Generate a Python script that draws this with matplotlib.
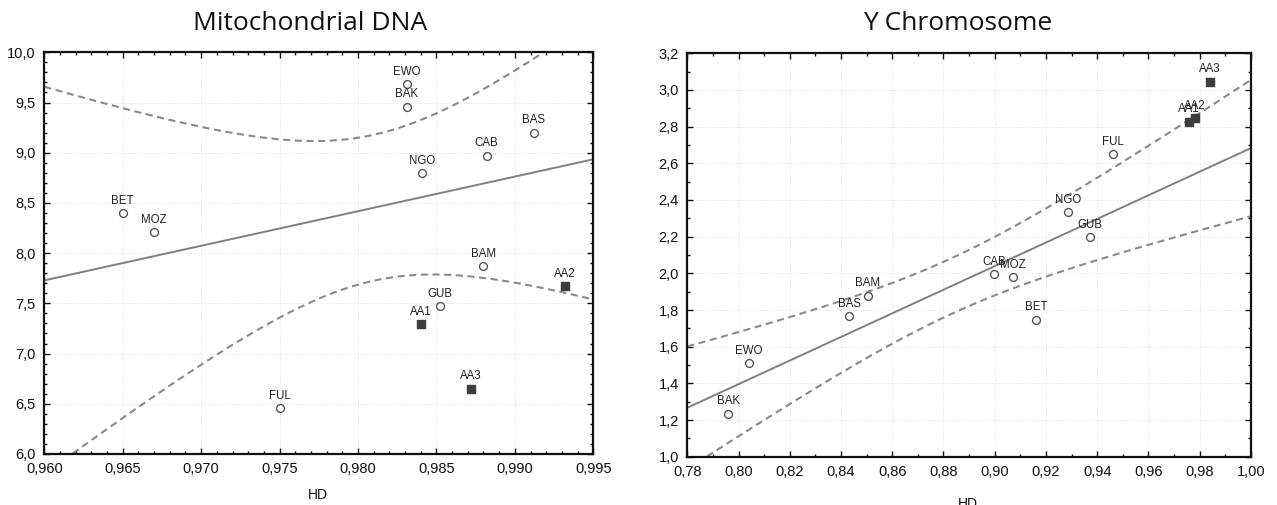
import numpy as np
import matplotlib
matplotlib.use("Agg")
import matplotlib.pyplot as plt
from matplotlib.ticker import MultipleLocator, FuncFormatter

# mitochondrial DNA: populations (open circles) and AA samples (filled squares)
mt_pops = ["BET", "MOZ", "EWO", "BAK", "BAS", "CAB", "NGO", "BAM", "GUB", "FUL"]
mt_hd = [0.965, 0.967, 0.9831, 0.9831, 0.9912, 0.9882, 0.9841, 0.9880, 0.9852, 0.975]
mt_val = [8.40, 8.21, 9.68, 9.46, 9.20, 8.97, 8.80, 7.87, 7.47, 6.46]
mt_aa = ["AA1", "AA2", "AA3"]
mt_aa_hd = [0.984, 0.9932, 0.9872]
mt_aa_val = [7.29, 7.67, 6.65]

# Y chromosome
y_pops = ["BAK", "EWO", "BAS", "BAM", "CAB", "MOZ", "BET", "NGO", "GUB", "FUL"]
y_hd = [0.796, 0.8041, 0.8432, 0.8505, 0.8999, 0.9072, 0.9161, 0.9287, 0.937, 0.9463]
y_val = [1.235, 1.512, 1.765, 1.878, 1.995, 1.98, 1.747, 2.332, 2.197, 2.652]
y_aa = ["AA1", "AA2", "AA3"]
y_aa_hd = [0.9758, 0.978, 0.9839]
y_aa_val = [2.827, 2.847, 3.046]

T975_DF8 = 2.306004  # t quantile for 95% band, n=10


def fmt(nd):
    return FuncFormatter(lambda v, p: f"{v:.{nd}f}".replace(".", ","))


def panel(ax, hd, val, pops, aa_hd, aa_val, aa, xlim, ylim, xmaj, xmin, ymaj, ymin, xd, yd):
    x = np.array(hd)
    y = np.array(val)
    n = len(x)
    b, a = np.polyfit(x, y, 1)
    resid = y - (a + b * x)
    s = np.sqrt(np.sum(resid ** 2) / (n - 2))
    sxx = np.sum((x - x.mean()) ** 2)
    xs = np.linspace(xlim[0], xlim[1], 300)
    yh = a + b * xs
    se = s * np.sqrt(1 / n + (xs - x.mean()) ** 2 / sxx)
    ax.plot(xs, yh, color="#808080", lw=1.4, zorder=2)
    for sign in (1, -1):
        ax.plot(xs, yh + sign * T975_DF8 * se, color="#8a8a8a", lw=1.5,
                dashes=(3.4, 2.2), zorder=2)

    ax.scatter(x, y, s=32, facecolor="white", edgecolor="#555555", lw=1.0, zorder=3)
    ax.scatter(aa_hd, aa_val, s=26, marker="s", color="#3d3d3d", zorder=3)
    for xi, yi, t in zip(list(x) + aa_hd, list(y) + aa_val, pops + aa):
        ax.annotate(t, (xi, yi), xytext=(0, 4.5), textcoords="offset points",
                    ha="center", va="bottom", fontsize=8.3, family="Liberation Sans",
                    color="#222222", zorder=4)

    ax.set_xlim(*xlim)
    ax.set_ylim(*ylim)
    ax.xaxis.set_major_locator(MultipleLocator(xmaj))
    ax.xaxis.set_minor_locator(MultipleLocator(xmin))
    ax.yaxis.set_major_locator(MultipleLocator(ymaj))
    ax.yaxis.set_minor_locator(MultipleLocator(ymin))
    ax.xaxis.set_major_formatter(fmt(xd))
    ax.yaxis.set_major_formatter(fmt(yd))
    ax.tick_params(which="both", direction="in", top=True, right=True, width=1.0,
                   colors="#111111", labelsize=10.5)
    ax.tick_params(which="major", length=4, pad=6)
    ax.tick_params(which="minor", length=2.5)
    for lbl in ax.get_xticklabels() + ax.get_yticklabels():
        lbl.set_family("Liberation Sans")
    for sp in ax.spines.values():
        sp.set_linewidth(1.6)
        sp.set_color("#111111")
    ax.grid(True, which="major", color="#dddddd", lw=0.6, ls=":")
    ax.set_axisbelow(True)


fig = plt.figure(figsize=(12.77, 5.05), dpi=100)
ax1 = fig.add_axes([0.0347, 0.1010, 0.4299, 0.7954])
ax2 = fig.add_axes([0.5382, 0.0956, 0.4414, 0.7989])

panel(ax1, mt_hd, mt_val, mt_pops, mt_aa_hd, mt_aa_val, mt_aa,
      (0.960, 0.995), (6.0, 10.0), 0.005, 0.001, 0.5, 0.1, 3, 1)
panel(ax2, y_hd, y_val, y_pops, y_aa_hd, y_aa_val, y_aa,
      (0.78, 1.00), (1.0, 3.2), 0.02, 0.01, 0.2, 0.1, 2, 1)

fig.text(310 / 1277, 1 - 23 / 505, "Mitochondrial DNA", ha="center", va="center",
         fontsize=19, family="Open Sans", color="#111111")
fig.text(958 / 1277, 1 - 23 / 505, "Y Chromosome", ha="center", va="center",
         fontsize=19, family="Open Sans", color="#111111")
fig.text(318 / 1277, 1 - 495 / 505, "HD", ha="center", va="center",
         fontsize=10, family="Liberation Sans", color="#111111")
fig.text(968 / 1277, 1 - 497 / 505, "HD", ha="center", va="top",
         fontsize=10, family="Liberation Sans", color="#111111")

fig.savefig("out.png", dpi=100, facecolor="white")
